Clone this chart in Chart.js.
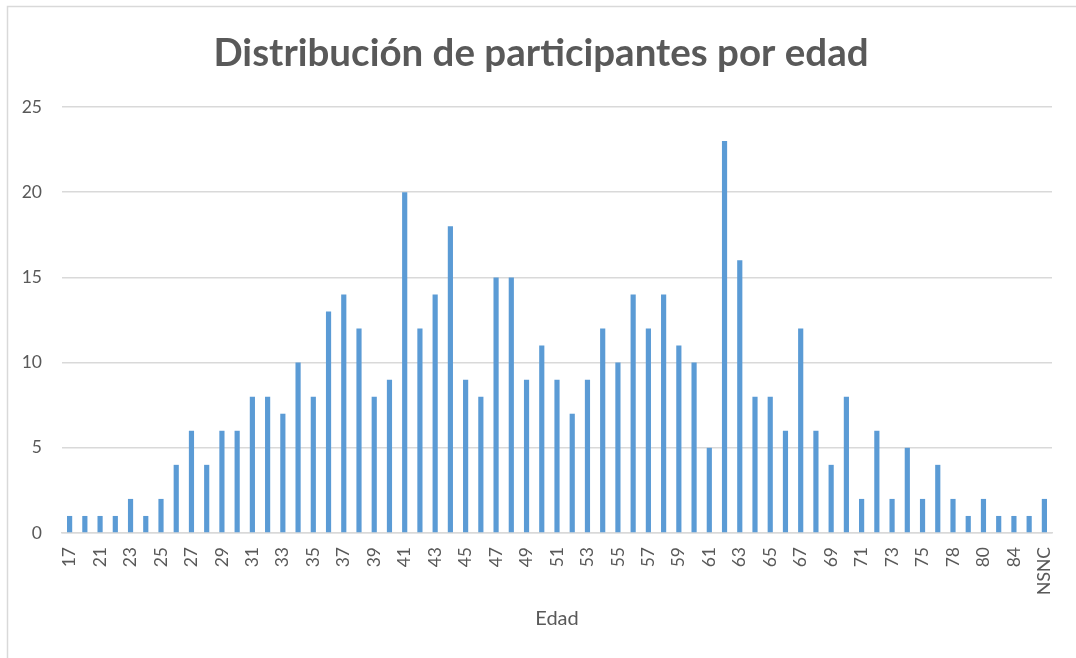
<!DOCTYPE html>
<html>
<head>
<meta charset="utf-8">
<script src="https://cdn.jsdelivr.net/npm/chart.js@4/dist/chart.umd.min.js"></script>
<style>
  html, body { margin: 0; padding: 0; background: #ffffff; }
  #wrap { position: relative; width: 1076px; height: 658px; }
</style>
</head>
<body>
<div id="wrap"><canvas id="c" width="1076" height="658"></canvas></div>
<script>
// Age categories (hidden-label categories are estimated)
const categories = ['17','19','21','22','23','24','25','26','27','28','29','30','31','32','33','34','35','36','37','38','39','40','41','42','43','44','45','46','47','48','49','50','51','52','53','54','55','56','57','58','59','60','61','62','63','64','65','66','67','68','69','70','71','72','73','74','75','76','78','79','80','81','84','86','NSNC'];
// Number of participants per age
const participantes = [1,1,1,1,2,1,2,4,6,4,6,6,8,8,7,10,8,13,14,12,8,9,20,12,14,18,9,8,15,15,9,11,9,7,9,12,10,14,12,14,11,10,5,23,16,8,8,6,12,6,4,8,2,6,2,5,2,4,2,1,2,1,1,1,2];
const yTicks = [0,5,10,15,20,25];
const titleText = 'Distribución de participantes por edad';
const xTitle = 'Edad';

const textColor = '#595959';
const gridColor = '#D9D9D9';

const borderPlugin = {
  id: 'outerBorder',
  beforeDraw(chart) {
    const ctx = chart.ctx;
    ctx.save();
    ctx.fillStyle = '#ffffff';
    ctx.fillRect(0, 0, chart.width, chart.height);
    ctx.strokeStyle = gridColor;
    ctx.lineWidth = 1.5;
    ctx.strokeRect(7.5, 6.5, chart.width + 20, chart.height + 20);
    ctx.restore();
  }
};

new Chart(document.getElementById('c'), {
  type: 'bar',
  data: {
    labels: categories,
    datasets: [{
      label: 'Participantes',
      data: participantes,
      backgroundColor: '#5B9BD5',
      borderWidth: 0,
      barPercentage: 0.34,
      categoryPercentage: 1.0
    }]
  },
  options: {
    responsive: false,
    animation: false,
    devicePixelRatio: 1,
    layout: { padding: { left: 6, right: 0, top: 0, bottom: 0 } },
    plugins: {
      legend: { display: false },
      tooltip: { enabled: false },
      title: {
        display: true,
        text: titleText,
        color: textColor,
        font: { family: 'Lato', size: 38.5, weight: 'bold', lineHeight: 1.2 },
        padding: { top: 30.5, bottom: 30.3 }
      }
    },
    scales: {
      x: {
        grid: { display: false, drawTicks: false },
        border: { display: true, color: gridColor, width: 1.5 },
        ticks: {
          autoSkip: false,
          minRotation: 90,
          maxRotation: 90,
          padding: 14,
          color: textColor,
          font: { family: 'Lato', size: 17.5 },
          callback: function(value, index) {
            return index % 2 === 0 ? categories[index] : '';
          }
        },
        title: {
          display: true,
          text: xTitle,
          color: textColor,
          font: { family: 'Lato', size: 20 },
          padding: { top: 10, bottom: 27 }
        },
        afterFit(scale) {
          scale.height = 125;
          scale.paddingLeft = 0;
          scale.paddingRight = 24;
        }
      },
      y: {
        min: 0,
        max: 25,
        afterBuildTicks(scale) { scale.ticks = yTicks.map(v => ({ value: v })); },
        grid: { color: gridColor, lineWidth: 1.5, drawTicks: false },
        border: { display: false },
        ticks: {
          padding: 20,
          color: textColor,
          font: { family: 'Lato', size: 17.5 }
        },
        afterFit(scale) { scale.width = 56; }
      }
    }
  },
  plugins: [borderPlugin]
});
</script>
</body>
</html>
